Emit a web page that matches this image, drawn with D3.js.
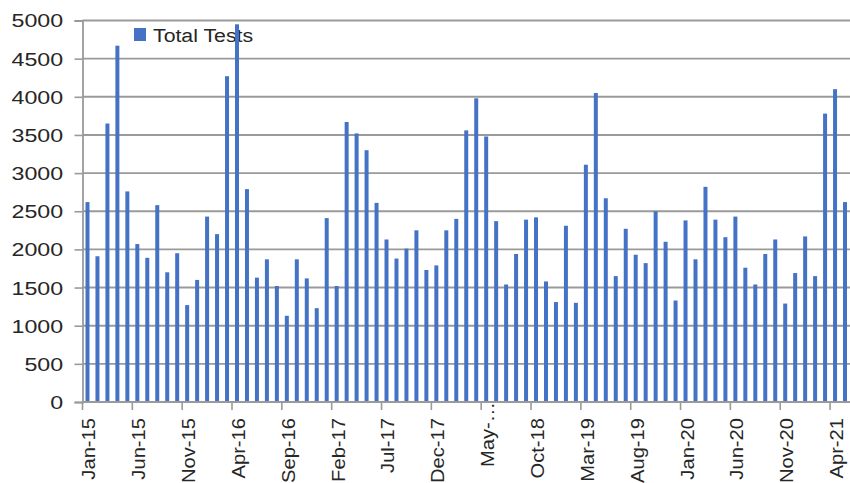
<!DOCTYPE html>
<html><head><meta charset="utf-8">
<script src="https://cdn.jsdelivr.net/npm/d3@7"></script>
<style>html,body{margin:0;padding:0;background:#fff;overflow:hidden}</style>
</head><body><svg id="c" width="850" height="483"></svg>
<script>
const categories = [
 "Jan-15","Feb-15","Mar-15","Apr-15","May-15","Jun-15","Jul-15","Aug-15","Sep-15","Oct-15","Nov-15","Dec-15",
 "Jan-16","Feb-16","Mar-16","Apr-16","May-16","Jun-16","Jul-16","Aug-16","Sep-16","Oct-16","Nov-16","Dec-16",
 "Jan-17","Feb-17","Mar-17","Apr-17","May-17","Jun-17","Jul-17","Aug-17","Sep-17","Oct-17","Nov-17","Dec-17",
 "Jan-18","Feb-18","Mar-18","Apr-18","May-18","Jun-18","Jul-18","Aug-18","Sep-18","Oct-18","Nov-18","Dec-18",
 "Jan-19","Feb-19","Mar-19","Apr-19","May-19","Jun-19","Jul-19","Aug-19","Sep-19","Oct-19","Nov-19","Dec-19",
 "Jan-20","Feb-20","Mar-20","Apr-20","May-20","Jun-20","Jul-20","Aug-20","Sep-20","Oct-20","Nov-20","Dec-20",
 "Jan-21","Feb-21","Mar-21","Apr-21","May-21"
];
const totalTests = [
 2620,1910,3650,4670,2760,2070,1890,2580,1700,1950,1270,1600,
 2430,2200,4270,4950,2790,1630,1870,1520,1130,1870,1620,1230,
 2410,1520,3670,3520,3300,2610,2130,1880,2010,2250,1730,1790,
 2250,2400,3560,3980,3480,2370,1540,1940,2390,2420,1580,1310,
 2310,1300,3110,4050,2670,1650,2270,1930,1820,2500,2100,1330,
 2380,1870,2820,2390,2160,2430,1760,1540,1940,2130,1290,1690,
 2170,1650,3780,4100,2620
];
const seriesName = "Total Tests";
const yTicks = [0,500,1000,1500,2000,2500,3000,3500,4000,4500,5000];
const xTickCategories = ["Jan-15","Jun-15","Nov-15","Apr-16","Sep-16","Feb-17","Jul-17","Dec-17","May-18","Oct-18","Mar-19","Aug-19","Jan-20","Jun-20","Nov-20","Apr-21"];
const xTickLabels = ["Jan-15","Jun-15","Nov-15","Apr-16","Sep-16","Feb-17","Jul-17","Dec-17","May-\u2026","Oct-18","Mar-19","Aug-19","Jan-20","Jun-20","Nov-20","Apr-21"];

const FONT = "'Liberation Sans', Arial, sans-serif";
const barColor = "#4472C4";
const gridColor = "#9a9a9a";
const textColor = "#262626";

const svg = d3.select("#c");
svg.append("rect").attr("width",850).attr("height",483).attr("fill","#fff");

const left = 82.5, right = 850, y0 = 402, yTop = 20.5;
const x = d3.scaleBand().domain(categories).range([left, right]).paddingInner(0.6).paddingOuter(0.3);
const y = d3.scaleLinear().domain([0,5000]).range([y0, yTop]);
const step = x.step();

// gridlines
svg.append("g").selectAll("line").data(yTicks).join("line")
  .attr("x1", left).attr("x2", right)
  .attr("y1", d => y(d)).attr("y2", d => y(d))
  .attr("stroke", gridColor).attr("stroke-width", 1.9);

// y axis
const yAxis = svg.append("g").attr("transform", `translate(${left},0)`)
  .call(d3.axisLeft(y).tickValues(yTicks).tickSize(8).tickFormat(d3.format("d")));
yAxis.select(".domain").attr("stroke", gridColor).attr("stroke-width", 1.8);
yAxis.selectAll(".tick line").attr("stroke", gridColor).attr("stroke-width", 1.6);
yAxis.selectAll(".tick text")
  .attr("x", -15.0).attr("dy", "0.36em")
  .attr("transform", "scale(1.29,1)")
  .attr("font-family", FONT).attr("font-size", 18).attr("fill", textColor);

// legend
svg.append("rect").attr("x", 134).attr("y", 28).attr("width", 12).attr("height", 13).attr("fill", barColor);
svg.append("text").attr("transform", "translate(153,41.5) scale(1.12,1)")
  .attr("font-family", FONT).attr("font-size", 19).attr("fill", textColor).text(seriesName);

// bars
svg.append("g").selectAll("rect").data(categories).join("rect")
  .attr("x", d => x(d)).attr("width", x.bandwidth())
  .attr("y", (d,i) => y(totalTests[i]))
  .attr("height", (d,i) => y0 - y(totalTests[i]))
  .attr("fill", barColor);

// x axis line
svg.append("line").attr("x1", left).attr("x2", right).attr("y1", y0).attr("y2", y0)
  .attr("stroke", gridColor).attr("stroke-width", 1.9);

// x ticks at left edge of category band
const xt = svg.append("g");
xt.selectAll("line").data(xTickCategories).join("line")
  .attr("x1", d => x(d) - step*0.3).attr("x2", d => x(d) - step*0.3)
  .attr("y1", y0).attr("y2", y0 + 8)
  .attr("stroke", gridColor).attr("stroke-width", 1.6);

xt.selectAll("text").data(xTickCategories).join("text")
  .attr("transform", (d,i) => {
    const cx = x(d) + x.bandwidth()/2 + 1.5;
    const ty = xTickLabels[i].endsWith("\u2026") ? 402 : 418;
    return `translate(${cx},${ty}) rotate(-90) scale(1.12,1)`;
  })
  .attr("text-anchor", "end").attr("dy", "0.36em")
  .attr("font-family", FONT).attr("font-size", 18).attr("fill", textColor)
  .text((d,i) => xTickLabels[i]);
</script>
</body></html>
